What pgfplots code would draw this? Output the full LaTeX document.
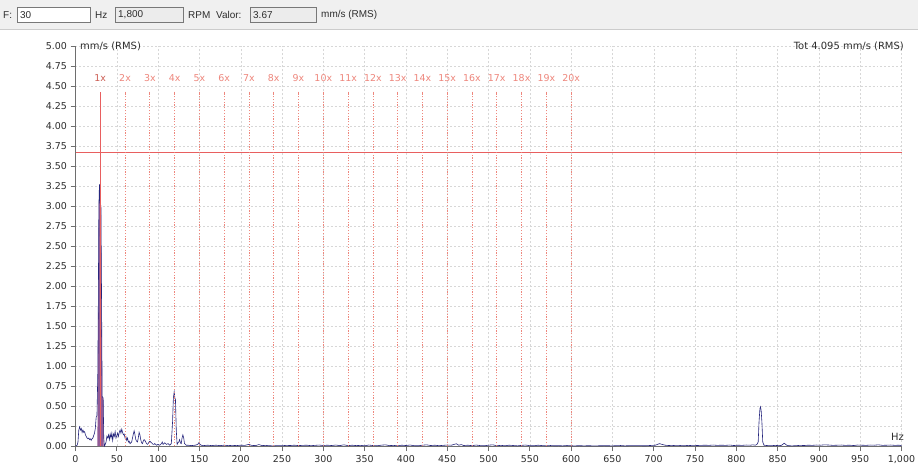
\documentclass[border=0pt]{standalone}
\usepackage{pgfplots}
\pgfplotsset{compat=1.18}
\usepackage{fontspec}
\setmainfont{Liberation Sans}
\newfontfamily\axfont{DejaVu Sans}
\definecolor{spec}{RGB}{38,38,125}
\definecolor{redl}{RGB}{232,95,95}
\definecolor{harm}{RGB}{238,135,125}
\definecolor{harmone}{RGB}{205,95,85}
\definecolor{peakfill}{RGB}{145,90,150}
\definecolor{gridc}{RGB}{215,215,215}
\definecolor{axc}{RGB}{110,110,110}
\definecolor{txt}{RGB}{45,45,45}
\definecolor{toolbg}{RGB}{240,240,240}
\definecolor{boxg}{RGB}{236,236,236}
\definecolor{boxb}{RGB}{120,120,120}
\begin{document}
\begin{tikzpicture}
\useasboundingbox (0bp,0bp) rectangle (918bp,-464bp);
\fill[white] (0bp,0bp) rectangle (918bp,-464bp);
% toolbar
\fill[toolbg] (0bp,0bp) rectangle (918bp,-29bp);
\draw[gray!40] (0bp,-29bp) -- (918bp,-29bp);
\begin{scope}[every node/.style={font=\fontsize{10}{11}\selectfont, text=txt, inner sep=0pt}]
\node[anchor=west] at (3bp,-15bp) {F:};
\draw[boxb, fill=white] (17bp,-7.5bp) rectangle (90bp,-22bp);
\node[anchor=west] at (20bp,-15bp) {30};
\node[anchor=west] at (95bp,-15bp) {Hz};
\draw[boxb, fill=boxg] (115bp,-7.5bp) rectangle (183bp,-22bp);
\node[anchor=west] at (118bp,-15bp) {1,800};
\node[anchor=west] at (188bp,-15bp) {RPM};
\node[anchor=west] at (216bp,-15bp) {Valor:};
\draw[boxb, fill=boxg] (250bp,-7.5bp) rectangle (316bp,-22bp);
\node[anchor=west] at (253bp,-15bp) {3.67};
\node[anchor=west] at (321bp,-15bp) {mm/s (RMS)};
\end{scope}
\begin{axis}[
  at={(75.5bp,-446bp)}, anchor=south west,
  width=826bp, height=400bp, scale only axis,
  xmin=0, xmax=1000, ymin=0, ymax=5,
  axis x line*=bottom, axis y line*=left,
  axis line style={axc, line width=0.8pt},
  xtick={0,50,...,1000},
  ytick={0,0.25,0.5,0.75,1,1.25,1.5,1.75,2,2.25,2.5,2.75,3,3.25,3.5,3.75,4,4.25,4.5,4.75,5},
  grid=major,
  major grid style={gridc, dash pattern=on 2pt off 2pt, line width=0.35pt},
  tick align=outside,
  major tick length=5bp,
  tick style={axc, line width=0.8pt},
  ticklabel style={font=\axfont\fontsize{9.5}{10}\selectfont, text=txt},
  xticklabel style={yshift=-1bp},
  /pgf/number format/assume math mode=true,
  xticklabel style={/pgf/number format/.cd, fixed, precision=0, 1000 sep={,}},
  yticklabel style={/pgf/number format/.cd, fixed, fixed zerofill, precision=2},
  clip=false,
]
% main peak fill
\addplot[fill=peakfill, draw=none, forget plot] coordinates {
(26.5,0)(27,0.9)(27.6,1.75)(28.3,3.0)(29,3.27)(29.8,3.04)(30.8,3.0)(31.6,1.74)(32.3,0.62)(33.5,0.6)(34.2,0)} \closedcycle;
% spectrum
\addplot[spec, line width=0.6pt, mark=none] coordinates {
(0,0)(2,0.01)(3,0.05)(4,0.2)(5,0.24)(6,0.2)(7,0.22)(8,0.17)(9,0.2)(10,0.17)(11,0.18)(12,0.14)(13,0.12)(14,0.1)(15,0.09)(16,0.1)(17,0.08)(18,0.09)(19,0.07)(20,0.09)(21,0.1)(22,0.13)(23,0.16)(24,0.22)(25,0.36)(26,0.38)(27,0.9)(27.6,1.75)(28.3,3.0)(29,3.27)(29.8,3.04)(30.8,3.0)(31.6,1.74)(32.3,0.62)(33.5,0.6)(34.2,0.1)(35,0.0)(36,0.02)(37,0.05)(38,0.12)(39,0.1)(40,0.14)(41,0.08)(42,0.15)(43,0.1)(44,0.16)(45,0.07)(46,0.15)(47,0.12)(48,0.18)(49,0.1)(50,0.13)(51,0.16)(52,0.12)(53,0.17)(54,0.2)(55,0.16)(56,0.21)(57,0.17)(58,0.14)(59,0.15)(60,0.1)(61,0.12)(62,0.07)(63,0.1)(64,0.05)(65,0.06)(66,0.03)(67,0.04)(68,0.05)(69,0.1)(70,0.15)(71,0.19)(72,0.14)(73,0.08)(74,0.06)(75,0.05)(76,0.1)(77,0.17)(78,0.14)(79,0.08)(80,0.04)(81,0.03)(82,0.06)(83,0.08)(84,0.07)(85,0.05)(86,0.03)(87,0.02)(88,0.03)(89,0.05)(90,0.06)(91,0.05)(92,0.04)(93,0.03)(94,0.02)(95,0.02)(96,0.03)(98,0.01)(100,0.02)(102,0.01)(104,0.03)(105,0.05)(106,0.02)(108,0.04)(110,0.02)(112,0.03)(114,0.01)(116,0.03)(117.5,0.3)(118.5,0.6)(119.5,0.68)(120.3,0.6)(121,0.58)(122,0.2)(123,0.02)(124,0.04)(125,0.05)(126,0.08)(127,0.04)(128,0.03)(129,0.1)(130,0.14)(131,0.1)(132,0.03)(134,0.01)(136,0.01)(140,0.005)(145,0.01)(148,0.02)(149,0.04)(150,0.03)(152,0.01)(155,0.005)(160,0.01)(165,0.005)(170,0.01)(175,0.005)(180,0.01)(185,0.005)(190,0.008)(195,0.005)(200,0.01)(205,0.008)(210,0.02)(213,0.008)(218,0.005)(222,0.018)(226,0.005)(230,0.008)(235,0.003)(240,0.002)(245,0.005)(250,0.003)(255,0.008)(260,0.006)(265,0.01)(270,0.005)(275,0.008)(280,0.01)(285,0.004)(290,0.008)(295,0.012)(300,0.006)(305,0.01)(310,0.006)(315,0.012)(320,0.005)(325,0.015)(330,0.004)(335,0.01)(340,0.005)(345,0.008)(350,0.003)(355,0.012)(360,0.006)(365,0.003)(370,0.01)(375,0.015)(380,0.005)(385,0.008)(390,0.002)(395,0.01)(400,0.006)(405,0.012)(410,0.004)(415,0.003)(420,0.01)(425,0.015)(430,0.006)(435,0.01)(440,0.004)(445,0.008)(450,0.012)(455,0.01)(461,0.028)(464,0.01)(467,0.018)(470,0.006)(475,0.01)(480,0.004)(485,0.012)(490,0.005)(495,0.003)(500,0.01)(505,0.015)(510,0.004)(515,0.008)(520,0.003)(525,0.01)(530,0.006)(535,0.002)(540,0.008)(545,0.012)(550,0.004)(555,0.003)(560,0.01)(565,0.005)(570,0.002)(575,0.006)(580,0.003)(585,0.004)(590,0.002)(595,0.006)(600,0.003)(605,0.002)(610,0.004)(615,0.002)(620,0.003)(630,0.002)(640,0.004)(650,0.002)(660,0.006)(665,0.002)(670,0.004)(680,0.005)(690,0.003)(695,0.006)(702,0.01)(707,0.03)(710,0.02)(714,0.01)(718,0.006)(722,0.008)(727,0.004)(732,0.006)(737,0.003)(742,0.008)(747,0.004)(752,0.006)(757,0.008)(762,0.01)(767,0.008)(772,0.012)(777,0.008)(782,0.01)(787,0.008)(792,0.012)(797,0.006)(802,0.01)(807,0.008)(812,0.012)(817,0.01)(820,0.015)(823,0.01)(825,0.02)(826.5,0.05)(827.5,0.3)(828.6,0.47)(829.3,0.49)(830.1,0.44)(831,0.3)(832,0.05)(833.5,0.01)(837,0.006)(842,0.003)(847,0.008)(852,0.004)(855,0.01)(858,0.035)(861,0.01)(864,0.003)(868,0.002)(872,0.004)(877,0.008)(882,0.006)(887,0.01)(892,0.008)(897,0.012)(902,0.01)(907,0.015)(912,0.012)(917,0.008)(922,0.01)(927,0.012)(932,0.008)(937,0.01)(942,0.006)(947,0.012)(952,0.01)(957,0.008)(962,0.012)(967,0.01)(972,0.015)(977,0.008)(982,0.01)(987,0.012)(992,0.008)(997,0.01)(1000,0.005)
};
% threshold line
\addplot[redl, line width=0.8pt, mark=none] coordinates {(0,3.67)(1000,3.67)};
% 1x line
\addplot[redl, line width=0.9pt, mark=none] coordinates {(30,0)(30,4.43)};
% harmonics
\addplot[ycomb, harm, line width=0.7pt, dash pattern=on 1.2pt off 1.6pt, mark=none] coordinates {
(60,4.43)(90,4.43)(120,4.43)(150,4.43)(180,4.43)(210,4.43)(240,4.43)(270,4.43)(300,4.43)(330,4.43)(360,4.43)(390,4.43)(420,4.43)(450,4.43)(480,4.43)(510,4.43)(540,4.43)(570,4.43)(600,4.43)};
\node[font=\axfont\fontsize{9.5}{10}\selectfont, text=harmone, inner sep=0pt] at (axis cs:30,4.6) {1x};
\pgfplotsinvokeforeach{2,...,20}{
  \node[font=\axfont\fontsize{9.5}{10}\selectfont, text=harm, inner sep=0pt] at (axis cs:{30*#1},4.6) {#1x};
}
\end{axis}
\node[anchor=west, font=\axfont\fontsize{10}{11}\selectfont, text=txt, inner sep=0pt] at (80bp,-46bp) {mm/s (RMS)};
\node[anchor=east, font=\axfont\fontsize{10}{11}\selectfont, text=txt, inner sep=0pt] at (904bp,-46bp) {Tot 4.095 mm/s (RMS)};
\node[anchor=east, font=\axfont\fontsize{10}{11}\selectfont, text=txt, inner sep=0pt] at (904bp,-437bp) {Hz};
\end{tikzpicture}
\end{document}
